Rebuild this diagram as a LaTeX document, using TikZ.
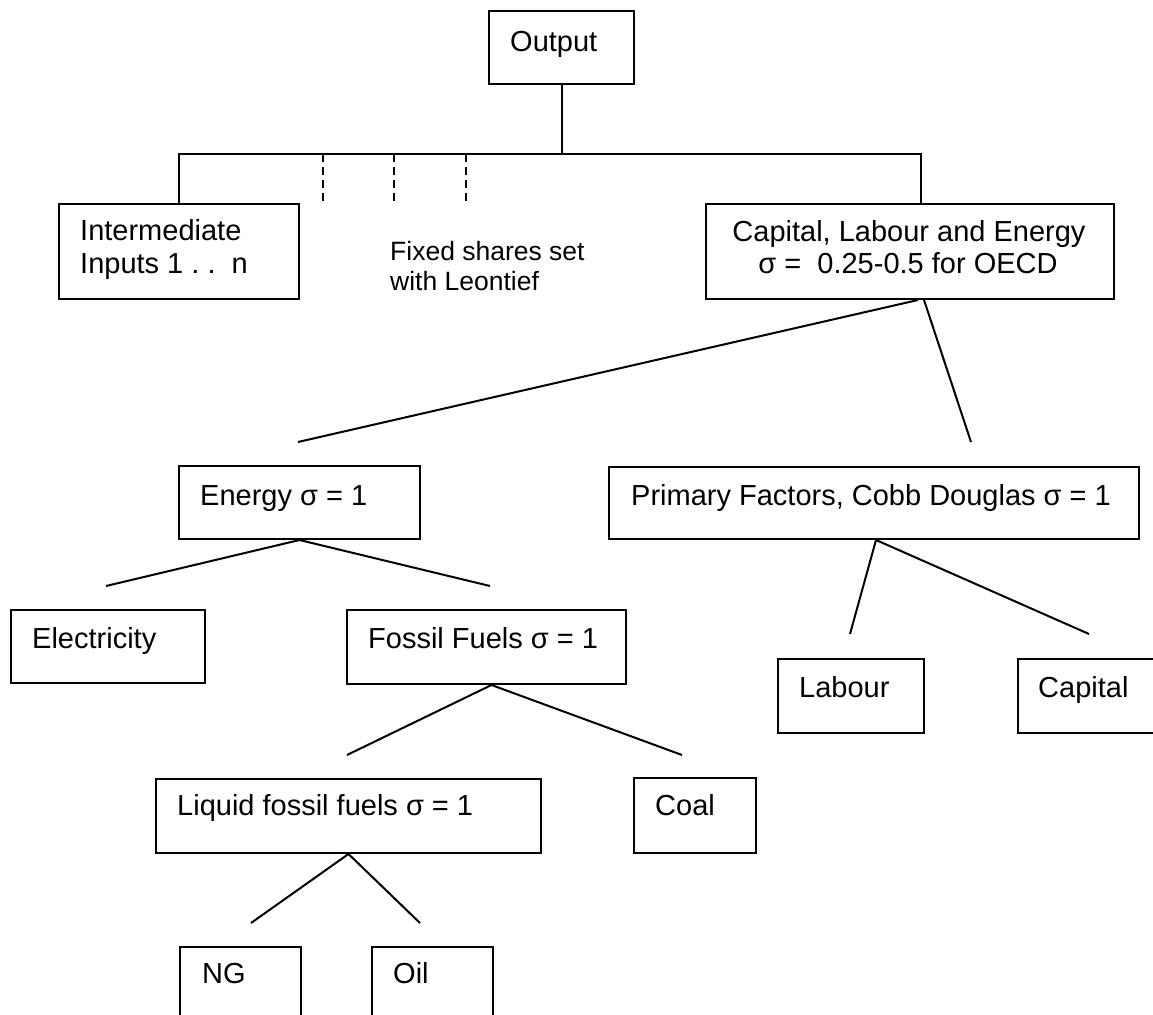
\documentclass[tikz,border=0pt]{standalone}
\usepackage{fontspec}
\setmainfont{Liberation Sans}
\begin{document}
\begin{tikzpicture}[x=1pt,y=-1pt,
  box/.style={draw, line width=2pt, inner sep=0pt, anchor=north west},
  txt/.style={anchor=base west, inner sep=0pt, font=\fontsize{29}{33}\selectfont},
  txtc/.style={anchor=base, inner sep=0pt, font=\fontsize{29}{33}\selectfont},
  note/.style={anchor=base west, inner sep=0pt, font=\fontsize{26.5}{30}\selectfont},
  link/.style={line width=2pt},
  dashlink/.style={line width=2pt, dash pattern=on 8pt off 5pt}]
\useasboundingbox (0,0) rectangle (1153,1014);
\clip (0,0) rectangle (1153,1014);

% top level
\node[box, minimum width=145pt, minimum height=73pt] (out) at (488,10) {};
\node[txt] (outT) at (510,52) {Output};

\node[box, minimum width=240pt, minimum height=95pt] (inter) at (58,203) {};
\node[txt] (interT1) at (80,240) {Intermediate};
\node[txt] (interT2) at (80,273) {Inputs 1 .\ .\ \ n};

\node[note] (fixT1) at (390,260) {Fixed shares set};
\node[note] (fixT2) at (390,290) {with Leontief};

\node[box, minimum width=408pt, minimum height=95pt] (cle) at (705,203) {};
\node[txtc] (cleT1) at (909,241) {Capital, Labour and Energy};
\node[txtc] (cleT2) at (908,273) {σ =\ \ 0.25-0.5 for OECD};

% second level
\node[box, minimum width=241pt, minimum height=73pt] (en) at (178,465) {};
\node[txt] (enT) at (200,505) {Energy σ = 1};

\node[box, minimum width=530pt, minimum height=72pt] (pf) at (608,466) {};
\node[txt] (pfT) at (631,505) {Primary Factors, Cobb Douglas σ = 1};

% third level
\node[box, minimum width=194pt, minimum height=73pt] (el) at (10,609) {};
\node[txt] (elT) at (32,648) {Electricity};

\node[box, minimum width=279pt, minimum height=74pt] (ff) at (346,609) {};
\node[txt] (ffT) at (368,648) {Fossil Fuels σ = 1};

\node[box, minimum width=146pt, minimum height=74pt] (lab) at (777,658) {};
\node[txt] (labT) at (799,697) {Labour};

\node[box, minimum width=160pt, minimum height=74pt] (cap) at (1017,658) {};
\node[txt] (capT) at (1038,697) {Capital};

% fourth level
\node[box, minimum width=385pt, minimum height=74pt] (lq) at (155,778) {};
\node[txt] (lqT) at (177,815) {Liquid fossil fuels σ = 1};

\node[box, minimum width=122pt, minimum height=75pt] (coal) at (633,777) {};
\node[txt] (coalT) at (655,815) {Coal};

% fifth level
\node[box, minimum width=121pt, minimum height=90pt] (ng) at (179,946) {};
\node[txt] (ngT) at (202,983) {NG};

\node[box, minimum width=121pt, minimum height=90pt] (oil) at (371,946) {};
\node[txt] (oilT) at (393,983) {Oil};

% Leontief bracket
\coordinate (jL) at (179,154);
\coordinate (jR) at (921,154);
\draw[link] (out.south) -- (out.south |- jL);
\draw[link] (inter.north -| jL) -- (jL) -- (jR) -- (cle.north -| jR);

\coordinate (d1a) at (323,154); \coordinate (d1b) at (323,203);
\coordinate (d2a) at (394,154); \coordinate (d2b) at (394,203);
\coordinate (d3a) at (466,154); \coordinate (d3b) at (466,203);
\draw[dashlink] (d1a) -- (d1b);
\draw[dashlink] (d2a) -- (d2b);
\draw[dashlink] (d3a) -- (d3b);

% nesting branches (free ends stop short of the child boxes)
\coordinate (toEn) at (298,442);
\coordinate (toPf) at (971,442);
\draw[link] ([xshift=8pt]cle.south) -- (toEn);
\draw[link] ([xshift=14pt]cle.south) -- (toPf);

\coordinate (toEl) at (106,586);
\coordinate (toFf) at (490,586);
\draw[link] (en.south) -- (toEl);
\draw[link] (en.south) -- (toFf);

\coordinate (toLab) at (850,634);
\coordinate (toCap) at (1089,634);
\draw[link] ([xshift=2pt]pf.south) -- (toLab);
\draw[link] ([xshift=2pt]pf.south) -- (toCap);

\coordinate (toLq) at (347,755);
\coordinate (toCoal) at (682,755);
\draw[link] ([xshift=5pt]ff.south) -- (toLq);
\draw[link] ([xshift=5pt]ff.south) -- (toCoal);

\coordinate (toNg) at (251,923);
\coordinate (toOil) at (420,923);
\draw[link] (lq.south) -- (toNg);
\draw[link] (lq.south) -- (toOil);
\end{tikzpicture}
\end{document}
